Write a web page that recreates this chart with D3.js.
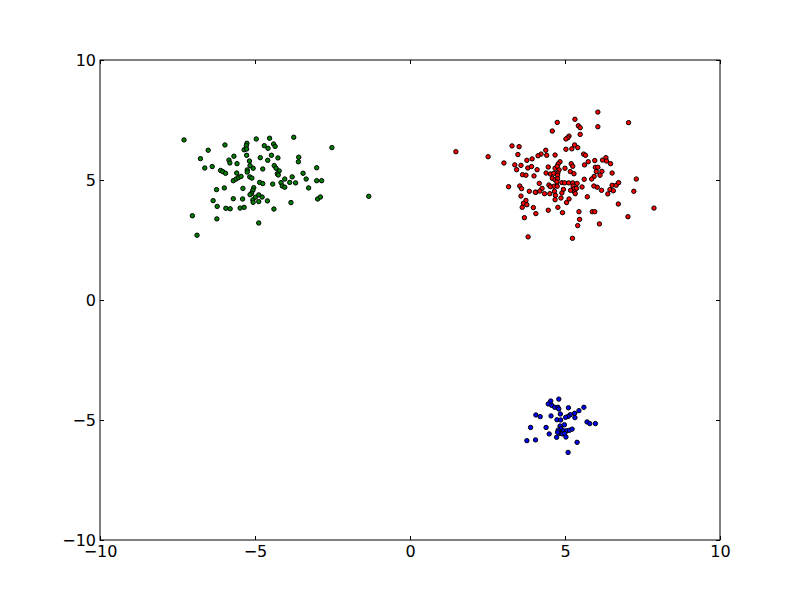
<!DOCTYPE html>
<html>
<head>
<meta charset="utf-8">
<script src="https://cdn.jsdelivr.net/npm/d3@7"></script>
<style>
  html, body { margin: 0; padding: 0; background: #ffffff; }
  svg { display: block; }
  text { font-family: "DejaVu Sans", sans-serif; }
</style>
</head>
<body>
<script>
// ---- data ----
const greenX = [-7.29,-3.75,-4.96,-4.53,-5.26,-5.28,-5.97,-4.40,-4.35,-4.70,-4.58,-5.35,-5.27,-6.51,-2.52,-6.76,-5.68,-5.27,-4.83,-4.47,-4.26,-4.59,-3.59,-3.60,-5.84,-5.81,-5.58,-5.18,-5.16,-6.62,-6.38,-6.11,-6.04,-5.95,-5.59,-5.25,-5.25,-5.06,-4.75,-4.38,-4.32,-4.22,-4.28,-4.25,-3.01,-3.45,-5.70,-5.61,-5.53,-5.45,-5.17,-5.10,-4.04,-3.80,-3.35,-4.85,-4.75,-4.43,-4.16,-4.12,-4.04,-3.88,-3.69,-3.01,-2.85,-3.27,-6.24,-5.99,-5.39,-5.04,-5.07,-5.11,-5.16,-4.88,-4.99,-4.77,-5.07,-5.06,-4.88,-4.60,-5.40,-5.70,-6.35,-6.22,-5.94,-5.80,-5.48,-5.35,-4.39,-3.84,-2.98,-2.89,-1.33,-7.02,-6.23,-4.88,-6.87];
const greenY = [6.67,6.78,6.71,6.74,6.53,6.43,6.46,6.50,6.40,6.43,6.32,6.26,6.29,6.24,6.35,5.89,5.99,6.03,5.93,6.03,5.92,5.82,5.95,5.76,5.83,5.71,5.68,5.79,5.60,5.50,5.56,5.40,5.35,5.28,5.29,5.42,5.33,5.49,5.46,5.60,5.49,5.38,5.26,5.21,5.51,5.28,4.97,5.04,5.10,5.15,5.13,5.08,5.04,5.13,5.04,4.90,4.85,4.83,4.89,4.75,4.70,4.90,4.88,4.97,4.97,4.67,4.60,4.67,4.65,4.68,4.57,4.45,4.39,4.38,4.28,4.29,4.17,4.07,4.10,4.13,4.21,4.22,4.14,3.90,3.82,3.80,3.83,3.86,3.79,4.06,4.21,4.29,4.32,3.51,3.38,3.21,2.70];

const redX = [6.06,5.32,4.75,7.05,6.06,5.43,5.49,4.59,5.49,5.13,5.09,5.03,5.31,5.41,5.22,5.03,3.29,3.52,1.48,2.52,3.48,4.38,4.23,4.13,4.41,4.68,3.94,3.77,5.60,5.66,5.96,5.75,6.21,6.32,6.34,6.47,3.03,3.38,3.58,3.44,3.80,3.92,4.10,4.46,4.68,4.84,4.78,4.75,4.81,4.77,5.20,5.25,5.17,5.29,5.00,5.63,5.98,6.06,6.19,6.01,6.13,6.52,5.94,5.86,5.62,7.30,3.63,3.74,4.00,4.39,4.53,4.64,4.76,4.59,4.68,4.76,4.74,4.90,4.99,5.12,5.25,5.39,5.26,5.29,5.37,5.31,5.18,5.33,4.17,4.48,4.53,4.65,4.75,4.26,4.19,4.06,4.34,4.51,4.66,4.69,4.68,4.95,4.90,5.55,3.18,3.54,3.60,3.85,4.04,3.58,3.74,3.66,3.77,3.62,3.98,4.06,3.69,3.81,4.46,4.77,4.92,5.05,5.13,4.87,5.72,5.45,5.88,5.96,5.47,5.41,6.11,5.24,6.72,7.03,7.87,7.22,6.38,6.45,6.56,6.52,6.65,6.73,6.18,6.04,5.93];
const redY = [7.83,7.53,7.40,7.39,7.22,7.26,7.18,7.04,6.90,6.83,6.76,6.71,6.46,6.35,6.30,6.28,6.42,6.39,6.18,5.97,6.06,6.24,6.08,6.01,6.03,6.04,5.88,5.82,6.08,6.03,5.81,5.76,5.83,5.93,5.79,5.68,5.71,5.63,5.61,5.43,5.50,5.56,5.43,5.54,5.49,5.76,5.67,5.57,5.42,5.29,5.68,5.57,5.35,5.26,5.49,5.63,5.53,5.53,5.36,5.35,5.20,5.29,5.15,5.04,5.03,5.04,5.22,5.20,5.17,5.29,5.25,5.28,5.20,5.07,5.01,5.05,4.92,4.89,4.88,4.88,4.88,4.86,4.75,4.63,4.65,4.50,4.57,4.43,4.86,4.79,4.72,4.74,4.74,4.65,4.54,4.49,4.43,4.43,4.53,4.36,4.18,4.61,4.46,4.71,4.72,4.75,4.64,4.53,4.49,4.33,4.15,4.03,3.97,3.86,3.85,3.60,3.43,2.63,3.74,3.86,3.64,4.06,4.21,4.25,4.30,3.68,3.68,3.68,3.36,3.10,3.17,2.57,4.00,3.47,3.83,4.53,4.42,4.60,4.55,4.78,4.78,4.89,4.57,4.70,4.75];

const blueX = [4.80,4.54,4.46,4.57,4.67,4.77,4.80,5.11,5.61,5.45,5.31,5.17,5.10,5.02,4.85,4.55,4.06,4.20,4.74,4.86,5.32,3.89,4.39,4.84,4.87,4.78,4.95,5.05,5.14,5.23,5.71,5.80,5.98,4.49,4.73,4.84,4.91,4.99,5.03,3.77,4.05,5.39,5.10,4.76,4.98];
const blueY = [-4.13,-4.21,-4.33,-4.39,-4.47,-4.47,-4.54,-4.49,-4.47,-4.61,-4.72,-4.78,-4.85,-4.89,-4.75,-4.83,-4.79,-4.86,-4.99,-5.00,-4.90,-5.31,-5.31,-5.25,-5.36,-5.42,-5.45,-5.45,-5.43,-5.38,-5.08,-5.15,-5.15,-5.58,-5.72,-5.56,-5.58,-5.56,-5.71,-5.86,-5.83,-5.93,-6.35,-5.51,-5.20];

const xTicks = [-10, -5, 0, 5, 10];
const yTicks = [-10, -5, 0, 5, 10];
const xDomain = [-10, 10];
const yDomain = [-10, 10];

const seriesColors = ["#008000", "#ff0000", "#0000ff"];

// ---- layout ----
const W = 800, H = 600;
const m = { left: 100, right: 80, top: 60, bottom: 60 };
const iw = W - m.left - m.right, ih = H - m.top - m.bottom;

const svg = d3.select("body").append("svg").attr("width", W).attr("height", H);
const g = svg.append("g").attr("transform", `translate(${m.left},${m.top})`);

const x = d3.scaleLinear().domain(xDomain).range([0, iw]);
const y = d3.scaleLinear().domain(yDomain).range([ih, 0]);

const fmt = d => (d < 0 ? "\u2212" + Math.abs(d) : String(d));

// points
const series = [
  { xs: greenX, ys: greenY, color: seriesColors[0] },
  { xs: redX, ys: redY, color: seriesColors[1] },
  { xs: blueX, ys: blueY, color: seriesColors[2] }
];
series.forEach(s => {
  const pts = s.xs.map((v, i) => [v, s.ys[i]]);
  g.append("g").selectAll("circle").data(pts).enter().append("circle")
    .attr("cx", d => x(d[0])).attr("cy", d => y(d[1]))
    .attr("r", 2.2)
    .attr("fill", s.color)
    .attr("stroke", "#000").attr("stroke-width", 1);
});

// axes (ticks inward on all 4 sides)
const tl = 4;
const axB = g.append("g").attr("transform", `translate(0,${ih})`)
  .call(d3.axisBottom(x).tickValues(xTicks).tickSizeInner(-tl).tickSizeOuter(0).tickPadding(6).tickFormat(fmt));
const axT = g.append("g")
  .call(d3.axisTop(x).tickValues(xTicks).tickSizeInner(-tl).tickSizeOuter(0).tickFormat(""));
const axL = g.append("g")
  .call(d3.axisLeft(y).tickValues(yTicks).tickSizeInner(-tl).tickSizeOuter(0).tickPadding(4).tickFormat(fmt));
const axR = g.append("g").attr("transform", `translate(${iw},0)`)
  .call(d3.axisRight(y).tickValues(yTicks).tickSizeInner(-tl).tickSizeOuter(0).tickFormat(""));

[axB, axT, axL, axR].forEach(a => {
  a.select(".domain").remove();
  a.selectAll("line").attr("stroke", "#000").attr("stroke-width", 1);
  a.selectAll("text").attr("fill", "#000").style("font-size", "16px").style("font-family", "'DejaVu Sans', sans-serif");
});

// frame
g.append("rect").attr("x", 0).attr("y", 0).attr("width", iw).attr("height", ih)
  .attr("fill", "none").attr("stroke", "#000").attr("stroke-width", 1);
</script>
</body>
</html>
